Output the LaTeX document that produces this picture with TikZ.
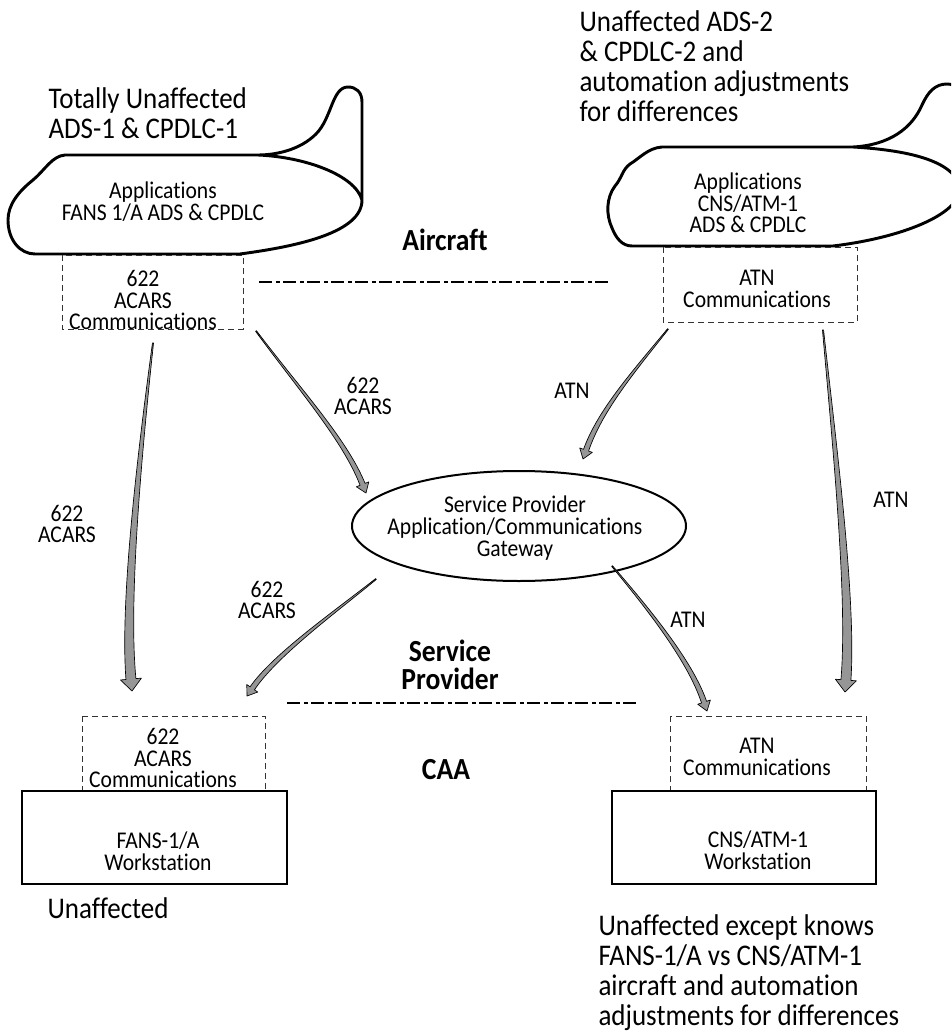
\documentclass[tikz,border=0pt]{standalone}
\usepackage{fontspec}
\setmainfont{Carlito}[FakeStretch=0.9, Ligatures=NoCommon]
\usetikzlibrary{calc}

\tikzset{every picture/.style={line width=0.75pt}}
\definecolor{flowgray}{RGB}{150,150,150}
\tikzset{
  flow/.style={fill=flowgray, draw=black, line width=0.5pt, line join=round},
  scroll/.style={line width=2.2pt, line join=round},
  commbox/.style={draw=black!80, dash pattern={on 4.5pt off 3pt}},
  wsbox/.style={line width=1.9pt},
  levelline/.style={line width=2pt, dash pattern={on 10pt off 2.5pt on 3pt off 2.5pt}},
  boxtext/.style={align=center, inner sep=0.75pt, font=\fontsize{18}{16.3}\selectfont},
  note/.style={align=left, anchor=west, inner sep=0.75pt, font=\fontsize{22.5}{22.5}\selectfont},
  level/.style={align=center, inner sep=0.75pt, font=\bfseries\fontsize{23}{21}\selectfont},
}

% tapered grey flow arrow: start, control, control, tip, shaft half width, head half width, head length
\newcommand{\flowarrow}[7]{%
  \path ($(#4)!#7!(#3)$) coordinate (fh);
  \filldraw[flow] ($(#1)!0.4pt!90:(#2)$) .. controls ($(#2)!0.4*#5!-90:(#1)$) and ($(#3)!0.85*#5!90:(#4)$) .. ($(fh)!#5!90:(#4)$)
    -- ($(fh)!#6!90:(#4)$) -- (#4) -- ($(fh)!#6!-90:(#4)$) -- ($(fh)!#5!-90:(#4)$)
    .. controls ($(#3)!0.85*#5!-90:(#4)$) and ($(#2)!0.4*#5!90:(#1)$) .. ($(#1)!0.4pt!-90:(#2)$) -- cycle;
}

\begin{document}
\begin{tikzpicture}[x=0.75pt,y=0.75pt,yscale=-1,xscale=1]
\useasboundingbox (0,0) rectangle (951,1034);
\clip (0,0) rectangle (951,1034);

%Shape: Scroll [FANS 1/A applications]
\draw[scroll] (258,155) -- (65,155) .. controls (52,156) and (45,170) .. (33,180) .. controls (18,192) and (8,205) .. (8,220) .. controls (8,240) and (20,254) .. (35,254) -- (240,254) .. controls (300,246) and (362,232) .. (362,200) -- (362,102) .. controls (362,92) and (356,87) .. (348,87) .. controls (332,87) and (332,118) .. (316,134) .. controls (300,150) and (276,155) .. (258,155) .. controls (305,157) and (355,175) .. (362,200) ;
%Shape: Scroll [CNS/ATM-1 applications]
\draw[scroll] (853,147) -- (662,147) .. controls (648,148) and (640,158) .. (630,164) .. controls (622,170) and (622,178) .. (615,186) .. controls (606,198) and (606,215) .. (612,228) .. controls (616,238) and (622,246) .. (632,246) -- (833,246) .. controls (900,238) and (960,215) .. (960,188) -- (962,100) .. controls (962,92) and (958,84) .. (947,84) .. controls (935,84) and (928,92) .. (922,105) .. controls (912,128) and (890,145) .. (853,147) .. controls (905,150) and (955,160) .. (960,188) ;

%Shape: Rectangle [dashed communication boxes]
\draw[commbox] (62,255) rectangle (243,329) ;
\draw[commbox] (663,247) rectangle (857,322) ;
\draw[commbox] (82,716) rectangle (265,791) ;
\draw[commbox] (670,716) rectangle (866,791) ;
%Shape: Rectangle [workstations]
\draw[wsbox] (22,791) rectangle (287,884) ;
\draw[wsbox] (612,791) rectangle (876,884) ;
%Shape: Ellipse [gateway]
\draw[line width=1.5pt] (519,526) ellipse [x radius=167, y radius=55] ;
%Straight Lines [level separators]
\draw[levelline] (259,282) -- (610,282) ;
\draw[levelline] (287,703) -- (638,703) ;

% Text Node
\node[note] (totally) at (47,113) {Totally Unaffected\\ADS-1 \& CPDLC-1};
% Text Node
\node[note] (adstwo) at (578,66) {Unaffected ADS-2\\\& CPDLC-2 and\\automation adjustments\\for differences};
% Text Node
\node[boxtext] (fansapp) at (163,202) {Applications\\FANS 1/A ADS \& CPDLC};
% Text Node
\node[boxtext] (cnsapp) at (748,203) {Applications\\CNS/ATM-1\\ADS \& CPDLC};
% Text Node
\node[boxtext] (acarsair) at (143,300) {622\\ACARS\\Communications};
% Text Node
\node[boxtext] (atnair) at (757,289) {ATN\\Communications};
% Text Node
\node[level] (aircraft) at (445,240) {Aircraft};
% Text Node
\node[boxtext] (gateway) at (515,528) {Service Provider\\Application/Communications\\Gateway};
% Text Node
\node[level] (provider) at (450,665) {Service\\Provider};
% Text Node
\node[level] (caa) at (446,770) {CAA};
% Text Node
\node[boxtext] (acarsgnd) at (163,758) {622\\ACARS\\Communications};
% Text Node
\node[boxtext] (atngnd) at (757,757) {ATN\\Communications};
% Text Node
\node[boxtext] (fansws) at (158,851) {FANS-1/A\\Workstation};
% Text Node
\node[boxtext] (cnsws) at (758,850) {CNS/ATM-1\\Workstation};
% Text Node
\node[note] (unaff) at (46,908) {Unaffected};
% Text Node
\node[note] (knows) at (597,973) {Unaffected except knows\\FANS-1/A vs CNS/ATM-1\\aircraft and automation\\adjustments for differences};

%Flow arrows
\coordinate (a1s) at (153,343); \coordinate (a1t) at (132,691);
\coordinate (a2s) at (256,331); \coordinate (a2t) at (366,493);
\coordinate (a3s) at (376,579); \coordinate (a3t) at (247,696);
\coordinate (a4s) at (612,566); \coordinate (a4t) at (707,711);
\coordinate (a5s) at (668,329); \coordinate (a5t) at (583,459);
\coordinate (a6s) at (823,330); \coordinate (a6t) at (845,692);
\flowarrow{a1s}{140,450}{124,600}{a1t}{3.75pt}{7.9pt}{9pt}
\flowarrow{a2s}{300,390}{345,440}{a2t}{2pt}{5pt}{7pt}
\flowarrow{a3s}{335,612}{275,655}{a3t}{2pt}{5pt}{7pt}
\flowarrow{a4s}{645,605}{690,660}{a4t}{2pt}{5pt}{7pt}
\flowarrow{a5s}{635,370}{600,410}{a5t}{2pt}{5pt}{7pt}
\flowarrow{a6s}{835,450}{852,600}{a6t}{3.75pt}{7.9pt}{9pt}

% Text Node
\node[boxtext] (lbla) at (67,524) {622\\ACARS};
% Text Node
\node[boxtext] (lblb) at (363,396) {622\\ACARS};
% Text Node
\node[boxtext] (lblc) at (267,600) {622\\ACARS};
% Text Node
\node[boxtext] (lbld) at (572,391) {ATN};
% Text Node
\node[boxtext] (lble) at (688,620) {ATN};
% Text Node
\node[boxtext] (lblf) at (891,500) {ATN};

\end{tikzpicture}
\end{document}
